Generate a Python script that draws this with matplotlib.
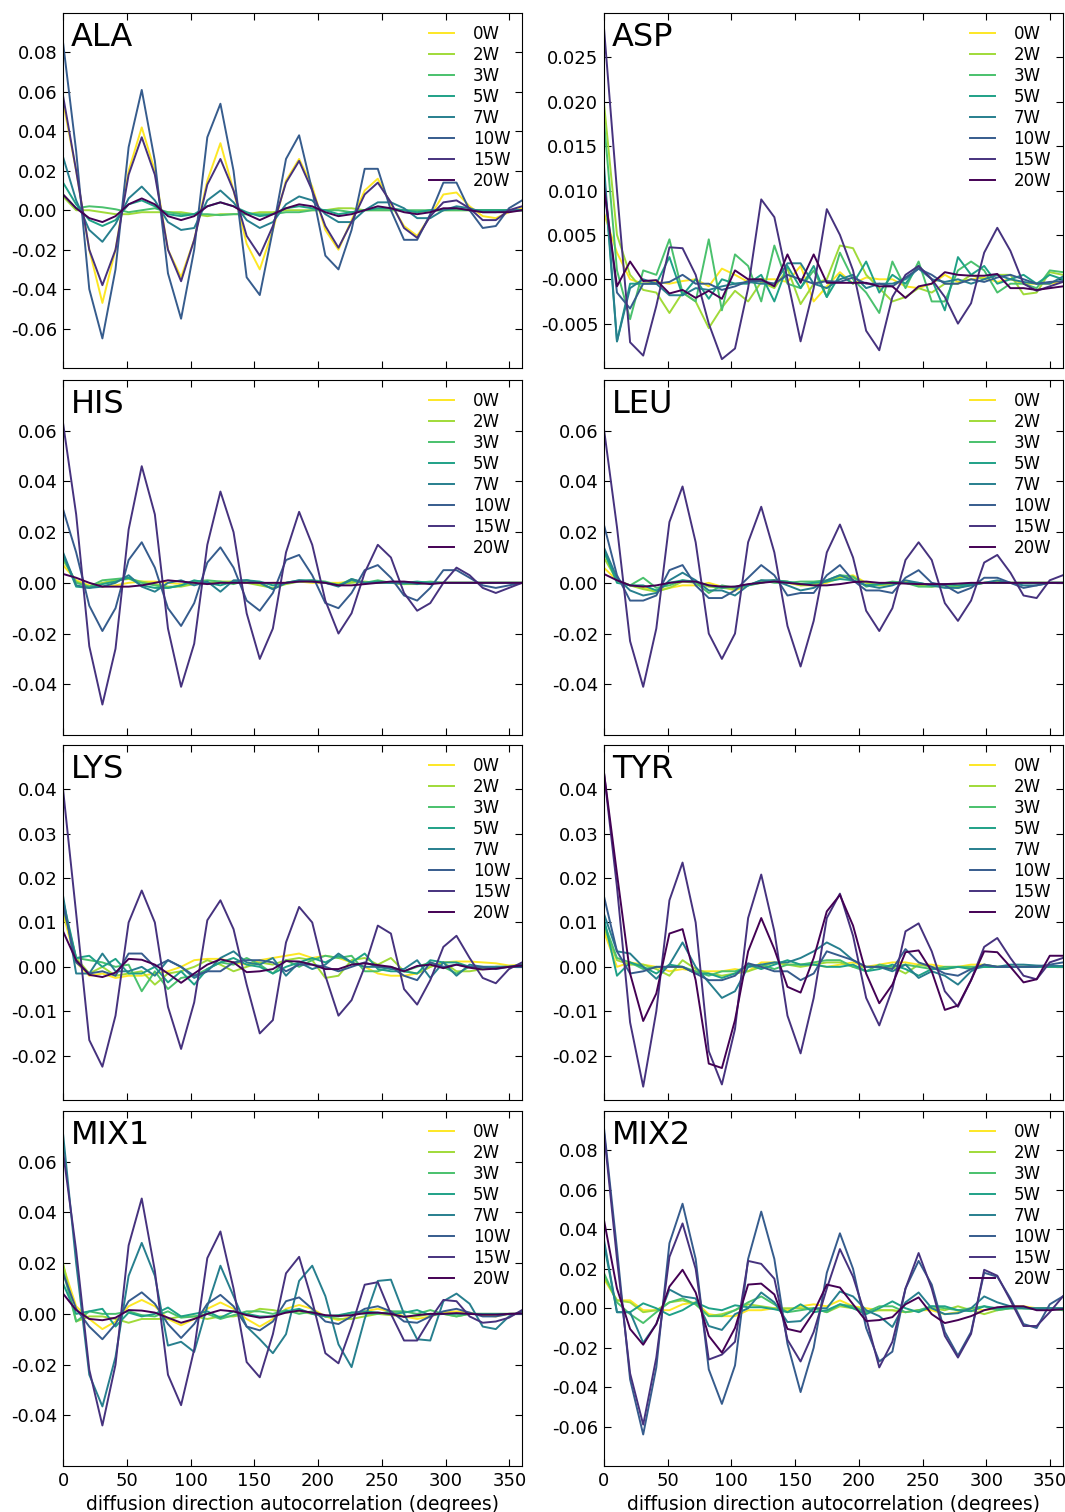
import numpy as np
import matplotlib
matplotlib.use('Agg')
import matplotlib.pyplot as plt

plt.rcParams['font.family'] = 'DejaVu Sans'
plt.rcParams['axes.unicode_minus'] = False

# series labels (water content) and x grid of the autocorrelation
labels = ['0W', '2W', '3W', '5W', '7W', '10W', '15W', '20W']
angles = np.linspace(0, 360, 36)
x_ticks = [0, 50, 100, 150, 200, 250, 300, 350]

# autocorrelation values, in units of 1e-3, one row per label above
ala = [
    [55, 20, -20, -47, -20, 20, 42, 20, -20, -34, -15, 15, 34, 10, -17, -30, -10, 15, 26, 12, -10, -20, -5, 10, 16, 3, -8, -13, -3, 8, 9, 2, -3, -4, -1, 1],
    [7, 0, 0, -1, -2, -2, -1, -1, -1, -1, -2, -3, -2, -2, -2, -1, -1, 0, 0, 0, 0, 1, 1, 0, 0, 0, 0, -1, 0, 0, 0, 0, 0, 0, 0, 0],
    [8, 1, 2, 1.5, 0.5, -1, 0, 1, -1, -2, -2, -2, -2.5, -2, -2, -2, -2, -1, -1, 0, 0, 0, -1, 0, 0, 0, 0, 0, 0, 0, 0, 0, 0, 0, 0, 0],
    [14, 3, -5, -8, -5, 3, 5, 2, -2, -3, -2, 2, 4, 2, -1, -3, -2, 1, 2, 1, 0, -2, -1, 0, 1, 1, 0, -1, 0, 0, 1, 0, 0, 0, 0, 0],
    [27, 5, -10, -16, -7, 6, 12, 5, -6, -10, -9, 5, 10, 4, -5, -9, -6, 3, 7, 5, -2, -6, -6, 0, 4, 4, 1, -4, -4, 0, 2, 1, -1, -1, 0, 0],
    [85, 30, -40, -65, -30, 32, 61, 25, -32, -55, -20, 37, 54, 20, -34, -43, -10, 26, 38, 10, -23, -30, -10, 21, 21, 0, -15, -15, -2, 14, 14, 0, -9, -8, 1, 5],
    [58, 20, -20, -38, -20, 18, 37, 18, -20, -36, -15, 13, 26, 10, -13, -23, -8, 14, 25, 10, -8, -19, -6, 8, 14, 4, -9, -14, -3, 4, 5, 1, -5, -5, 0, 2],
    [8, 1, -4, -6, -3, 3, 6, 3, -3, -5, -3, 2, 4, 2, -2, -5, -2, 1, 3, 2, -1, -3, -2, 0, 2, 1, -1, -2, -1, 1, 1, 0, -1, -1, -1, 0],
]
asp = [
    [7.5, 3.0, 0.0, -0.5, -0.3, -0.5, -0.2, 0.0, -0.8, 1.2, 0.5, -0.3, 0.0, 0.0, -0.3, 1.5, -2.5, -0.8, 0.8, -0.5, 0.2, 0.0, 0.0, -0.8, -1.0, -0.5, 0.5, -0.3, 0.0, 0.2, -0.3, 0.0, -0.5, -0.5, -0.5, -0.3],
    [20.0, 5.0, 0.5, -1.2, -1.5, -3.8, -1.5, -2.5, -5.5, -3.2, -1.3, -2.5, -0.3, -1.0, 1.2, -2.8, -0.5, 0.0, 3.8, 3.5, 0.5, -1.0, -2.5, -2.0, -1.0, -1.5, -0.5, -0.5, 0.5, 0.0, 0.5, 0.5, -1.7, -1.5, 0.8, 0.5],
    [18.0, 1.0, -4.5, 1.0, 0.5, 4.5, -1.5, -2.5, 4.5, -3.5, 2.8, 1.5, -2.5, 3.8, -0.5, -1.0, 1.0, -2.0, 3.0, 0.0, -1.5, -3.8, 2.0, -1.0, 2.0, -2.5, -2.5, 1.0, 2.0, 1.0, -1.5, -0.5, -0.5, -1.0, 1.0, 0.8],
    [12.0, -7.0, -0.5, -0.5, -0.5, 2.5, -1.8, 0.0, -2.2, 0.0, -0.5, -0.5, 0.5, -2.5, 1.5, -1.0, 1.5, -2.0, 0.5, -0.5, 2.0, -1.5, 0.5, -0.5, 1.5, 0.0, -3.5, 2.5, 0.5, 1.5, -0.5, 0.0, 0.5, -0.5, 0.5, 0.0],
    [13.0, -7.0, -1.0, 0.0, -0.5, -1.8, -1.8, -1.0, -1.2, -0.8, -0.5, -0.3, -0.5, -0.5, 1.8, 1.8, -0.5, -1.0, 0.0, 0.5, -1.0, -0.5, -0.5, 0.0, 1.2, 0.0, -0.3, 0.0, -0.5, 0.0, 0.5, 0.0, -0.3, -0.5, -0.5, 0.3],
    [11.0, -1.5, -3.3, -0.5, -0.5, -0.3, 0.5, -0.5, -0.5, -1.2, -0.8, -0.2, -0.2, -0.5, 0.5, 0.0, -0.5, -0.2, -0.3, 0.2, -0.5, -0.5, -0.8, 0.2, 1.2, 0.5, -0.5, -0.5, 0.0, -0.3, 0.2, 0.5, 0.0, -0.5, -0.3, -0.2],
    [28.5, 10.0, -7.1, -8.6, -3.0, 3.6, 3.5, 0.5, -5.0, -9.0, -7.8, -1.0, 9.0, 7.0, 0.0, -7.0, -1.0, 7.9, 5.0, 1.0, -5.8, -8.0, -2.0, 0.5, 1.5, 0.0, -2.0, -5.0, -2.7, 3.0, 5.8, 3.2, -0.5, -1.3, -0.8, -0.3],
    [10.5, -0.8, 2.0, -0.2, -0.1, -1.6, -1.2, -2.1, -1.3, -2.2, 1.0, 0.0, 0.0, -0.8, 2.8, -0.4, 2.8, -0.4, -0.4, -0.4, -0.4, -0.8, -0.8, -2.1, -0.8, -0.5, 0.8, 0.5, 0.4, 0.4, 0.6, -1.0, -1.0, -1.2, -1.0, -0.8],
]
his = [
    [7, 1, -1, -1.5, -1, 0, 0.5, 0.5, 0, -0.5, -0.5, 0, 0, 0.5, 0.5, -0.5, 0, 0, 0.5, 0, 0, 0, 0.5, 0, 0, 0, -0.5, -0.5, 0, 0, 0, 0, 0, 0, 0, 0],
    [9, 0.5, -1.5, 0, 1, 1.5, 0.5, -0.5, -1.5, -1.5, -0.5, 0, 0.5, 0.5, 0, -1, -2, -0.5, 0.5, 0.5, 0, -0.5, 0, 0.5, 0, 0, -0.5, 0, 0, 0, 0, 0, 0, 0, 0, 0],
    [10, 0, -1.5, 1, 1.5, 2, 0, -1, -2, -1, 0.5, 1, 0.5, -0.5, 1, 0, -2.5, 0, 0.5, 1, 0.5, -1, 1.5, 0, 1, 0, -0.5, 0, 0.5, 0, 0, 0, 0, 0, 0, 0],
    [11, -1.5, -2, -0.5, 0.5, 2, -1, -2, -2, -1, 1, 0, -1, 0.5, 1, 0.5, -1, 0, 1, 1, 0, -1, 1, 0, 0.5, 0, 0, 0.5, 0, 0, 0, 0, 0, 0, 0, 0],
    [12, -1, -2, -1.5, 0, 3, -1.5, -3.5, 0, 1, -1, 0.5, -3.5, 1, 1, 0, -2.5, 0, 1, 0.5, 0, -1.5, 1.5, 0, 0, 0, 0, -0.5, 0, 0, 0, 0, 0, 0, 0, 0],
    [29, 12, -9, -19, -10, 9, 16, 6, -10, -17, -8, 8, 14, 6, -7, -11, -4, 9, 11, 3, -8, -10, -4, 5, 7, 2, -5, -7, -2, 5, 5, 2, -1, -2, -1, 0],
    [63, 27, -25, -48, -26, 21, 46, 27, -18, -41, -24, 15, 36, 20, -12, -30, -18, 12, 28, 15, -7, -20, -12, 4, 15, 10, -4, -11, -8, 0, 6, 3, -2, -4, -2, 0],
    [3.5, 2, 0, -1.5, -1.5, -1.5, -1, 0, 1, 0.5, 0, -0.5, 0, 0, 0, 0, 0, 0, 0.5, 0.5, 0, -1, -1, -0.5, 0, 0.5, 0.5, 0, -0.5, 0, 0, 0, 0, 0, 0, 0],
]
leu = [
    [6, 1, -1, -2, -3, -2, -1, -1, 0, -1.5, -3, -1, 0, 1, 0, -1, -1, 0, 2, 3, 0, -1, 0, 0.5, -0.5, -1, -0.5, -1, -0.5, 0, 0, 0, 0, 0, 0, 0],
    [10, 1, -1, -2.5, -3.5, -2, 0.5, 0, -1.5, -2, -2.5, -1, 0.5, 1, 0.5, -1, -0.5, 0.5, 2.5, 2, 0, -1, -0.5, 0, -1, -1.5, -1, -1.5, -1, 0, 0.5, 0, 0, 0, 0, 0],
    [12, 1, -1, 2, -2, -1, 1, 0, -4, -1, -2, -1, 1, 0, 0, 0.5, 0.5, 1, 3, 2.5, -1.5, -0.5, 0.5, 0, -1.5, -1.5, -1, -2, -0.5, 0, 0, 0, 0, 0, 0, 0],
    [13, 0, -1, -1, -3, 0, 1, 0.5, -1, -2, -1.5, -1, 0, 1, 0.5, -0.5, 0, 0.5, 1.5, 1, -1, -0.5, 0, 0, 0, -1, -0.5, -1, -0.5, 0, 0, 0, 0, 0, 0, 0],
    [14, 2, -3, -5, -4, 1, 4, 1, -3, -3, -5, -1, 1, 1, -1, -3, -2, 1, 3, 1, -1, -2, -1, 1, 0, -1, -2, -2, -1, 0, 1, 0, -1, -1, 0, 0],
    [23, 3, -7, -7, -5, 5, 7, -1, -6, -6, -3, 2, 7, 3, -5, -4, -4, 3, 7, 1, -3, -3, -4, 2, 5, 0, -1, -4, -2, 2, 2, 0, -2, -1, 0, 0],
    [61, 22, -23, -41, -18, 24, 38, 16, -20, -30, -20, 16, 30, 12, -17, -33, -15, 12, 23, 10, -11, -19, -10, 9, 16, 9, -8, -15, -7, 8, 11, 4, -5, -6, 1, 3],
    [3.5, 1, -1, -1.5, -1, 0, 0.5, 0.5, -1, -1.5, -1.5, -0.5, 0, 0.5, 0, -0.5, -1, -1, -0.5, 0.3, 0.5, 0, 0, -0.3, -0.5, -0.5, -0.5, -0.3, 0, 0, 0, 0, 0, 0, 0, 0],
]
lys = [
    [12, 1, -2, -1.5, -2.5, -2, -2, -1.5, -1, 0, 1.5, 1.8, 1.8, 1, 0.5, 1.5, 2, 2.5, 3, 2, 2.5, 2, 1, 0, -1.5, -2, -2, -1.5, 0, 1, 1.2, 1.2, 1, 0.8, 0.3, 0.5],
    [13, 2, -1.5, 0, -2, -1.5, -1, -4, -1.5, -1, 0, 1.5, 0.5, -1, 0, 1, 0.5, 1.5, 2, 1.5, -2.5, -2, 1.5, 2, 0.5, 2, -1, -1.5, 0, 1, -1, -1, -0.5, 0, 0, 0.5],
    [14, 2, 1.5, 1, 0, 0.5, -5.5, -1, -5, -2.5, -2, -0.5, 1, 0.5, 2, 0.5, -1.5, 1.5, 0, 1.5, 2.5, 2, 2.5, -1, -1, 0, -1, 0, 1, 0, -1.5, 0, -0.5, 0, 0, 0],
    [15, 2, 2.5, 0, 1.8, -1.5, -1.5, 0, -3.5, -1, -4, -0.5, 1, 2, 0.5, 0, -1.5, 0, 1, 2, 1, 2.5, 1, 3, -0.5, -1, -1, -1.5, 1.5, 1, 1, 0, 0, 0, 0, 0.5],
    [16, -1.5, -1.5, 3, -1, -1, 0, -2, 1.5, 0, -2.5, -1, 2, 3.5, 1, 0.5, 2, -2, 1, -0.5, 0.5, 3, 1, 0, 0, -0.5, -0.5, 1.5, -2.5, 1, -2, 0.5, 0, 0, 0, 0],
    [14, 1, -1.5, -1, -2, 3, 3, 0, 1.5, 0, -2, -1, -1, 1, 1.5, 1.5, 1, -1, 0.5, 0.5, 0, -1, 0, 1, 0, 0, -2, -3, 1, 0, 0.5, 0, 0, -0.5, 0, 0],
    [40, 12, -16.5, -22.5, -11, 10, 17.2, 10, -9, -18.5, -8, 10.5, 15, 8.5, -4, -15, -12, 5.5, 13.5, 10, -2, -11, -7.5, 0, 9.3, 7.5, -5, -8.5, -3, 4.5, 7, 2, -2.5, -3.7, -0.5, 1],
    [8, 1.5, -1.8, -2.3, -1.3, 1.8, 1.6, 0.5, -1.5, -3.6, -1.5, 0.5, 1.7, 1, -1.2, -1, -0.5, 1.3, 1.2, 0.5, -0.5, -0.5, 0.5, 0.8, 0.4, 0, -1, 0.2, 0.5, -0.3, 0.5, -0.2, -0.6, -0.4, 0, 0.3],
]
tyr = [
    [8, 0, 1, 0.5, 0, -1, -0.5, -1, -1, -1, -0.5, -1, 1, 1, 0.5, 0.5, 0.5, 0, 0.5, 1, 0, 0.5, 1, 1, 0.5, 0.5, 0, 0, 0.5, 0.5, 0, 0, 0, 0, 0, 0],
    [9, 1.5, 0.5, 0.5, -0.5, -2, 1.5, -0.5, -1.5, -2, -1.5, -1, 0, 1, 0.5, 0, 0.5, 1, 1, 0, 0, 0, 0, -1.5, 0.5, 0, -0.5, 0, 0, 0, 0, 0, 0, 0, 0, 0],
    [10, 2, 1, -0.5, 0, 0, 0, -1, -2, -1, -1, 0, 0.5, -0.5, 0.5, 0.5, 1, 1.5, 1.5, 0, -1, 0.5, 0, 0.5, 0, -0.5, 0, 0, 0, 0, 0, 0, 0, 0, 0, 0],
    [11, -2, 1, 0, -1.5, 0.5, 0, -1.5, -1.5, -2.5, -1.5, 0.5, -0.5, 0.5, 1.5, 0.5, 0.5, 0, 0, 0.5, -1, -0.5, 0.5, -0.5, -2, -0.5, -0.5, 0, -0.5, 0, 0, 0, 0, 0, 0, 0],
    [12, 3.5, 3, 0, -2.7, 0.5, 5.5, 0, -3.5, -7, -5.5, 0, 0.5, 1, 1, 2, 3.5, 5.5, 4, 1.5, 0, 0, -1, 0.5, -2.5, -1, -2, -4, -1, 0.5, 0, 0.5, 0.5, 0.3, 0.2, 0.2],
    [16, 3.5, -1.5, -1, 0, 0, 0, -1.5, -3, -3, -2, 0.8, 0, -1, -1, -3, -1.5, 3.5, 2.5, 1.5, 0, 0, -0.5, 4, 1, 0, -1.5, -2, -0.5, 0.5, 0, 0, 0, 0, 0.5, 1],
    [44, 18, -12.5, -27, -10, 15, 23.5, 10, -19, -26.5, -14, 11, 20.8, 8, -11, -19.5, -7, 11, 16.5, 7, -7, -13.2, -5, 8, 9.8, 3.5, -5.5, -9, -3, 4.5, 6.5, 2, -2, -2.8, 1, 2],
    [44, 21, -1.5, -12.2, -6, 7.5, 8.5, -3, -21.8, -22.8, -12, 3.5, 11, 4, -4.5, -5.8, 2, 12.5, 16.2, 9.3, -1.5, -8.2, -4, 3.3, 3.7, -1, -9.7, -8.7, -3, 3.5, 3.3, 0, -3.5, -2.8, 2.5, 2.5],
]
mix1 = [
    [19, 3, -2, -6, -3, 3, 5.5, 3, -2, -4.5, -2, 2, 4.5, 2, -2, -5, -2, 2, 3.5, 2, -1, -2.5, -1, 1, 2, 1, -1, -2, -1, 0.5, 1, 0.5, -0.5, -1, 0, 0],
    [20, -3, -1, -1, -2, -3.5, -2, -2, -2, -1, -1, -2, -1, -1, 0, 2, 1.5, 0.5, 1, 0, -1, -2, -2, -1, 0, -0.5, -1, -1, 0, 0, -1, 0, 0, 0, 0, 0],
    [17, -3, 1, 0, 0, 1, -0.5, -1, 1, -1.5, -1, 0, -2, -0.5, 1, 1, 0, 1.5, 0, 1, -1, -1, 0.5, 0, 0, 1, 1, 0, 1.5, 0, -1, 0, 0, 0, 0, 0],
    [12, 0, 1, 2, -5, 0.5, -1, 0, 2.5, -1, 0, 1, -1.5, 1, 0, -1, -1, 1, 2, 0, -1, -0.5, 0.5, 1, 0.5, 0, 0.5, 1.5, -0.5, 0, 0, 0, 0, 0, 0, 0],
    [71, 20, -24, -36.5, -17, 15, 28, 15, -12.5, -11, -15, 3, 19, 7, -5, -10, -15.5, -8, 13, 19, 7, -12, -21, -2, 13, 13.5, 0, -10, -10.5, 5, 8, 4, -5, -6, -1, 1],
    [16, 2, -5, -10, -4, 5, 8.5, 4, -4, -9.5, -4, 4, 7.5, 3, -5, -6.5, -3, 5, 6.5, 2, -3, -4, -1, 2, 3, 1, -3, -3.5, -1, 1, 2, 0.5, -1, -1, 0, 0],
    [64, 25, -22, -44, -20, 27, 45.5, 17, -24, -36, -14, 22, 32.5, 10, -19, -25, -8, 16, 22.5, 5, -15.5, -19.5, -5, 11.5, 12.5, 0, -10.5, -10.5, -2, 5.5, 5, -1, -3.5, -3, -1.5, 1.5],
    [8, 1.5, -2, -2.5, -1.5, 1.5, 1.3, 0.5, -1.5, -3.5, -2, 0, 1.5, 1, -0.5, -1.5, -1, 0.5, 1.3, 0.5, -0.5, -0.8, -0.5, 0.3, 0.5, 0, -1.2, -0.5, 0, 0, 0.3, 0, -0.3, -0.3, 0, 0.2],
]
mix2 = [
    [15, 4, 4, -1, -1, -1, 2, 3, -3, -4, -4, -1, -1, 0, -1, 1, 2, 1, 4, 1, 0, -1, -1, -2, -1, -1, -3, -2, 0, -1, 0, 1, 1, 0, 0, 0],
    [16, 4, 3, -2, -1, 3, 4, 2, -4, -3, -1, 2, 1, 0, 0, 0, 0, -2, 1, 0, -2, -1, -1, -2, -1, 0, -1, 1, -1, -3, -1, 0, 0, 0, 0, -1],
    [18, 3, -3, -7.5, -2, 3, 5, 2, -4, -4, -1, 3, 6, 2, -2, -1, 0, -2, 2, 1, -2, 1, 1, -2, -1, 1, 0, -1, 0, 1, -1, 0, 0, 0, 0, -1],
    [33, -2, -2, 2.5, 0, -3.5, -1, 3, 0, -1, 1.5, 0.5, 0.5, -0.5, -2, 2, -2, -1, 2, 0, -3, 0, 3.5, 0, -2, 1, 1, -1, -1.5, 1, 0, 0, 0, -0.5, 0, 0],
    [35, -2, -2, -17.5, -8, 9.5, 6, 5, -9, -11, -3, 0, 8, 3, -7, -6.5, 0, 0, 8.5, 6, -1, -4, -9.5, 3, 8, 0, -3, -2.5, 0, 6, 3, 1, 0, 0, 0, 0],
    [92, 30, -36, -64, -30, 33, 53, 25, -31, -48.5, -29, 25, 49, 25, -18, -42.5, -20, 18, 38, 20, -10, -27, -22, 10, 24, 12, -12, -24, -12, 18, 16, 5, -8, -10, 2, 6],
    [90, 25, -33, -59, -25, 26, 43, 20, -26, -23.5, -17, 24, 22.5, 15, -16, -27, -12, 10, 30, 16, -5, -30, -17, 10, 28, 10, -14, -25, -13, 19.5, 16.5, 4, -9, -9, -2, 6],
    [45, 10, -10.5, -18.5, -8, 11, 19.5, 8, -14, -22.5, -10, 12, 12.5, 7, -10.5, -12, -2, 12, 10.5, 2, -6.5, -6, -4.5, 2, 5.5, -3, -7.5, -6, -4, -1, 0.5, 1, 1, -1, -1, -0.5],
]

# y tick values and their printed labels for each panel
ticks_08 = [-0.06, -0.04, -0.02, 0.0, 0.02, 0.04, 0.06, 0.08]
ticks_06 = [-0.04, -0.02, 0.0, 0.02, 0.04, 0.06]
ticks_04 = [-0.02, -0.01, 0.0, 0.01, 0.02, 0.03, 0.04]
ticks_asp = [-0.005, 0.0, 0.005, 0.010, 0.015, 0.020, 0.025]
labels_asp = ['-0.005', '-0.000', '0.005', '0.010', '0.015', '0.020', '0.025']

panels = [
    ('ALA', ala, (-0.08, 0.10), ticks_08, None),
    ('ASP', asp, (-0.01, 0.03), ticks_asp, labels_asp),
    ('HIS', his, (-0.06, 0.08), ticks_06, None),
    ('LEU', leu, (-0.06, 0.08), ticks_06, None),
    ('LYS', lys, (-0.03, 0.05), ticks_04, None),
    ('TYR', tyr, (-0.03, 0.05), ticks_04, None),
    ('MIX1', mix1, (-0.06, 0.08), ticks_06, None),
    ('MIX2', mix2, (-0.08, 0.10), ticks_08, None),
]

colors = plt.cm.viridis(np.linspace(1, 0, 8))

fig = plt.figure(figsize=(10.65, 15.12), dpi=100)
lefts = [0.0592, 0.567]
bottoms = [0.7566, 0.5139, 0.2725, 0.0304]
w, h = 0.431, 0.2348

for k, (name, data, ylim, yt, ylab) in enumerate(panels):
    row, col = k // 2, k % 2
    ax = fig.add_axes([lefts[col], bottoms[row], w, h])
    for vals, lab, c in zip(data, labels, colors):
        ax.plot(angles, np.array(vals) / 1000.0, color=c, lw=1.4, label=lab)
    ax.set_xlim(0, 360)
    ax.set_ylim(*ylim)
    ax.set_xticks(x_ticks)
    ax.set_yticks(yt)
    if ylab is None:
        ax.set_yticklabels(['%.2f' % v for v in yt])
    else:
        ax.set_yticklabels(ylab)
    ax.tick_params(direction='in', top=True, right=True, length=5,
                   labelsize=13, pad=4)
    if row < 3:
        ax.tick_params(labelbottom=False)
    else:
        ax.set_xlabel('diffusion direction autocorrelation (degrees)', fontsize=13.5)
    ax.text(0.017, 0.975, name, transform=ax.transAxes, fontsize=23,
            va='top', ha='left')
    ax.legend(loc='upper right', frameon=False, fontsize=12,
              labelspacing=0.18, handlelength=1.5, handletextpad=1.1,
              borderaxespad=0.3)

fig.savefig('out.png', dpi=100)
